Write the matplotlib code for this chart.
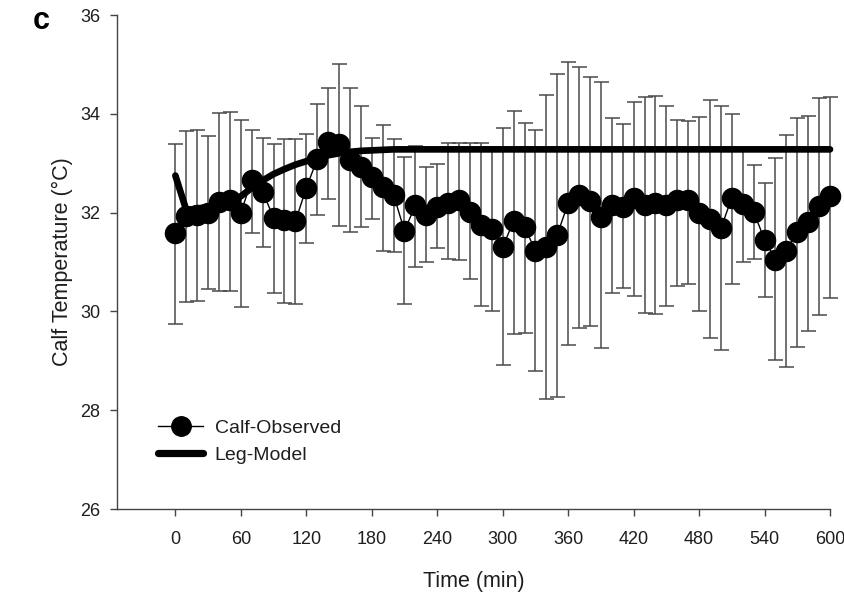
import numpy as np
import matplotlib
matplotlib.use("Agg")
import matplotlib.pyplot as plt
from matplotlib.lines import Line2D

plt.rcParams['font.family'] = ['Liberation Sans', 'DejaVu Sans']

# Sampling times (min)
time_min = np.arange(0, 610, 10)

# Observed calf temperature: mean and error-bar extremes (°C)
calf_mean = [31.58, 31.93, 31.96, 32.00, 32.22, 32.25, 32.00, 32.65, 32.42, 31.90, 31.86, 31.82, 32.50, 33.08, 33.42,
             33.39, 33.06, 32.93, 32.73, 32.52, 32.36, 31.63, 32.15, 31.95, 32.12, 32.20, 32.25, 32.02, 31.75, 31.66,
             31.30, 31.83, 31.71, 31.23, 31.31, 31.55, 32.19, 32.36, 32.23, 31.92, 32.15, 32.11, 32.30, 32.15, 32.19,
             32.15, 32.25, 32.25, 31.99, 31.87, 31.68, 32.30, 32.17, 32.02, 31.45, 31.05, 31.23, 31.61, 31.80, 32.13, 32.34]

calf_top = [33.39, 33.65, 33.67, 33.56, 34.01, 34.04, 33.87, 33.67, 33.52, 33.38, 33.49, 33.48, 33.59, 34.19, 34.52,
            35.00, 34.52, 34.16, 33.52, 33.77, 33.49, 33.13, 33.35, 32.93, 32.98, 33.40, 33.40, 33.40, 33.40, 33.33,
            33.71, 34.06, 33.81, 33.67, 34.39, 34.80, 35.04, 34.94, 34.74, 34.64, 33.91, 33.80, 34.24, 34.33, 34.37,
            34.16, 33.87, 33.86, 33.93, 34.27, 34.16, 34.00, 33.30, 32.96, 32.59, 33.10, 33.57, 33.91, 33.96, 34.31, 34.35]

calf_bottom = [29.74, 30.20, 30.22, 30.45, 30.41, 30.41, 30.08, 31.58, 31.31, 30.38, 30.18, 30.14, 31.39, 31.95, 32.28,
               31.73, 31.61, 31.71, 31.87, 31.22, 31.20, 30.14, 30.90, 30.99, 31.28, 31.07, 31.05, 30.65, 30.10, 30.01,
               28.91, 29.54, 29.57, 28.79, 28.23, 28.26, 29.32, 29.66, 29.70, 29.25, 30.38, 30.47, 30.31, 29.96, 29.95,
               30.10, 30.52, 30.55, 30.01, 29.46, 29.22, 30.55, 30.99, 31.06, 30.30, 29.02, 28.88, 29.27, 29.61, 29.93, 30.28]

# Leg model prediction (°C)
leg_model = [32.75, 32.05, 32.08, 32.12, 32.16, 32.22, 32.33, 32.50, 32.65, 32.78, 32.88, 32.97, 33.04, 33.10, 33.16,
             33.20, 33.23, 33.25, 33.26, 33.27, 33.28, 33.28, 33.28, 33.28, 33.28, 33.28, 33.28, 33.28, 33.28, 33.28,
             33.28, 33.28, 33.28, 33.28, 33.28, 33.28, 33.28, 33.28, 33.28, 33.28, 33.28, 33.28, 33.28, 33.28, 33.28,
             33.28, 33.28, 33.28, 33.28, 33.28, 33.28, 33.28, 33.28, 33.28, 33.28, 33.28, 33.28, 33.28, 33.28, 33.28, 33.28]

x_ticks = [0, 60, 120, 180, 240, 300, 360, 420, 480, 540, 600]
y_ticks = [26, 28, 30, 32, 34, 36]

mean = np.array(calf_mean)
err = np.vstack([mean - np.array(calf_bottom), np.array(calf_top) - mean])

fig = plt.figure(figsize=(8.45, 5.97), dpi=100)
ax = fig.add_axes([117 / 845, 1 - 509 / 597, (830 - 117) / 845, (509 - 15) / 597])

text_color = '#1e1e1e'
axis_color = '#444444'

# Error bars
eb = ax.errorbar(time_min, mean, yerr=err, fmt='none', ecolor='#4a4a4a', elinewidth=1.1,
                 capsize=5.4, capthick=1.1, zorder=2)
for artist in eb.lines[1]:
    artist.set_clip_on(False)
for coll in eb.lines[2]:
    coll.set_clip_on(False)

# Model curve
ax.plot(time_min, leg_model, color='black', lw=4.8, solid_capstyle='round', zorder=3, clip_on=False)

# Observed means
ax.plot(time_min, mean, color='black', lw=1.0, marker='o', markersize=14.5,
        markerfacecolor='black', markeredgecolor='black', zorder=4, clip_on=False)

ax.set_xlim(-53.5, 600)
ax.set_ylim(26, 36)
ax.set_xticks(x_ticks)
ax.set_yticks(y_ticks)

for side in ('top', 'right'):
    ax.spines[side].set_visible(False)
for side in ('left', 'bottom'):
    ax.spines[side].set_color(axis_color)
    ax.spines[side].set_linewidth(1.0)

ax.tick_params(axis='both', direction='out', length=5.2, width=1.0, color=axis_color,
               labelsize=13, labelcolor=text_color)
ax.tick_params(axis='x', pad=11)
ax.tick_params(axis='y', pad=7)

ax.set_xlabel('Time (min)', fontsize=15.5, color=text_color, labelpad=16)
ax.set_ylabel('Calf Temperature (°C)', fontsize=15.5, color=text_color, labelpad=5)

fig.text(41 / 845, 1 - 21 / 597, 'c', fontsize=22, fontweight='bold', color='black',
         va='center', ha='center')

handles = [
    Line2D([], [], color='black', lw=1.0, marker='o', markersize=14),
    Line2D([], [], color='black', lw=5.2, solid_capstyle='round'),
]
ax.legend(handles, ['Calf-Observed', 'Leg-Model'], loc='upper left',
          bbox_to_anchor=(0.058, 0.182), frameon=False, fontsize=14, borderpad=0,
          borderaxespad=0, handlelength=2.3, handletextpad=0.6, labelspacing=0.48,
          labelcolor=text_color)

fig.savefig('out.png', dpi=100)
